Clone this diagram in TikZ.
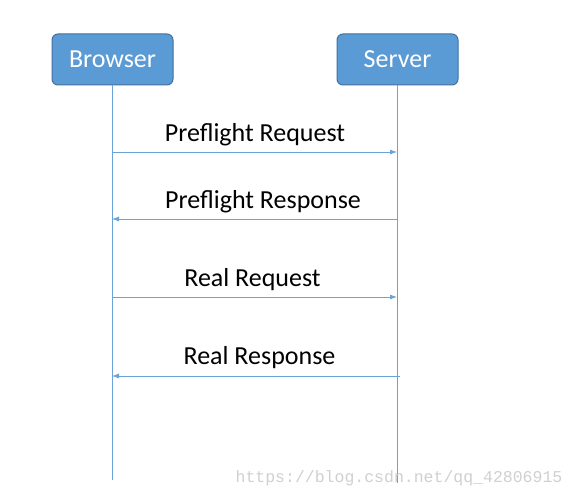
\documentclass[tikz,border=0pt]{standalone}
\usepackage{fontspec}
\setmainfont{Carlito}
\newfontfamily\wmfont{Liberation Mono}
\usetikzlibrary{arrows.meta}
\definecolor{boxfill}{HTML}{5B9BD5}
\definecolor{boxline}{HTML}{41719C}
\definecolor{lifeline}{HTML}{6AA3D8}
\definecolor{wmgray}{HTML}{D0D0D0}
\tikzset{
  actor/.style={draw=boxline, line width=1pt, fill=boxfill, rounded corners=6pt,
    minimum width=121pt, minimum height=51pt, inner sep=0pt,
    text=white, font=\fontsize{26}{28}\selectfont},
  life/.style={draw=lifeline, line width=0.8pt},
  msg/.style={draw=lifeline, line width=0.8pt, -{Latex[length=7pt,width=5pt]}},
  lbl/.style={inner sep=0pt, text=black, font=\fontsize{26}{28}\selectfont},
  wm/.style={inner sep=0pt, text=wmgray, font=\wmfont\fontsize{16.5}{18}\selectfont}
}
\begin{document}
\begin{tikzpicture}[x=1pt,y=-1pt]
\useasboundingbox[fill=white] (0,0) rectangle (576,497);
% lifelines
\coordinate (bEnd) at (112,480);
\coordinate (sEnd) at (397,483);
\node[actor] (browser) at (112.5,59.5) {\raisebox{-2pt}{Browser}};
\node[actor] (server) at (397.5,59.5) {\raisebox{-2pt}{Server}};
\draw[life] (browser.south -| bEnd) -- (bEnd);
\draw[life] (server.south -| sEnd) -- (sEnd);
% messages
\coordinate (b1) at (112,152); \coordinate (s1) at (397,152);
\coordinate (b2) at (112,219); \coordinate (s2) at (397,219);
\coordinate (b3) at (112,297); \coordinate (s3) at (397,297);
\coordinate (b4) at (112,376); \coordinate (s4) at (400,376);
\draw[msg] (b1) -- (s1);
\draw[msg] (s2) -- (b2);
\draw[msg] (b3) -- (s3);
\draw[msg] (s4) -- (b4);
\node[lbl] (l1) at (255,135) {Preflight Request};
\node[lbl] (l2) at (263,202) {Preflight Response};
\node[lbl] (l3) at (252.5,280) {Real Request};
\node[lbl] (l4) at (259.5,358) {Real Response};
\node[wm] (wm) at (399,478) {https://blog.csdn.net/qq\_42806915};
\end{tikzpicture}
\end{document}
